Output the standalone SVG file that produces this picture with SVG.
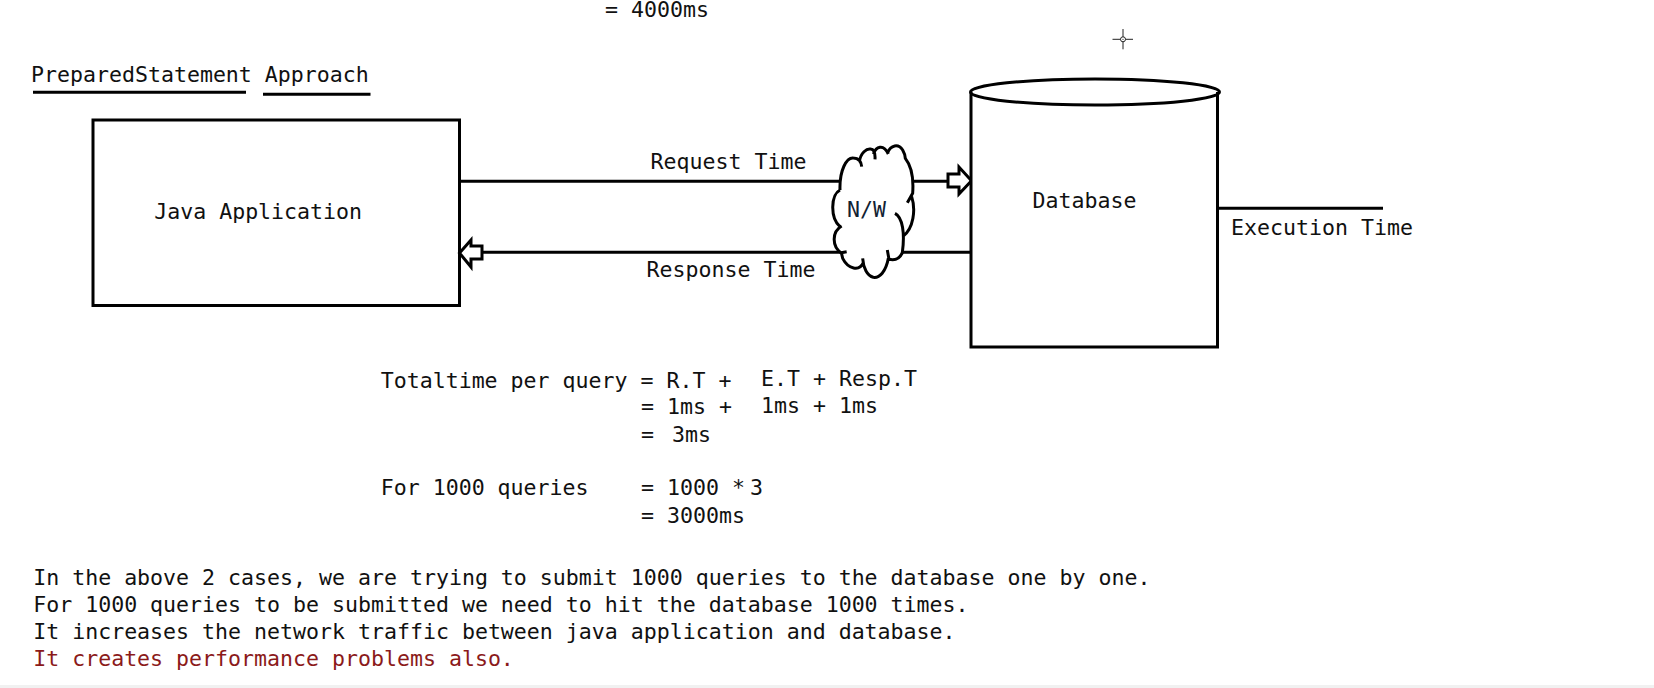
<svg xmlns="http://www.w3.org/2000/svg" width="1654" height="688" viewBox="0 0 1654 688">
<style>
text{font-family:"DejaVu Sans Mono","Liberation Mono",monospace;font-size:21.58px;fill:#111;white-space:pre}
.ln{fill:none;stroke:#000;stroke-width:3}
.sh{fill:#fff;stroke:#000;stroke-width:3}
.red{fill:#8b1a1a}
</style>
<rect width="1654" height="688" fill="#fff"/>
<rect y="685" width="1654" height="3" fill="#f1f1f1"/>
<text x="605" y="17">= 4000ms</text>
<g id="title">
<text x="31" y="82">PreparedStatement Approach</text>
<path class="ln" d="M33 92.3H246M263 94.3H370.5"/>
</g>
<g id="connectors">
<path class="ln" d="M460 181.3H850M905 181.3H948M483 252.3H850M900 252.3H971M1217.5 208.3H1383"/>
<path class="sh" d="M948 174H959V167L971.5 180.7L959 194V187H948Z"/>
<path class="sh" d="M482 246H471V240L459.5 253L471 267V259H482Z"/>
</g>
<g id="java-application">
<rect class="ln" x="93" y="120" width="366.5" height="185.5"/>
<text x="154.2" y="219">Java Application</text>
</g>
<g id="network" transform="translate(820 130) scale(.3333)">
<path d="M60 180C58 120 80 82 100 84C115 85 122 95 125 100C122 68 140 55 152 57C162 58 166 65 168 70C170 50 190 40 205 68C212 45 235 40 248 60C255 72 256 85 256 85C272 105 282 135 278 190L275 200C288 240 280 295 250 318L247 368C240 385 225 392 205 385C198 425 178 445 160 442C142 438 130 415 130 398C118 425 85 418 68 385L65 370C35 350 35 305 62 290C30 265 32 195 60 180Z" fill="#fff" stroke="none"/>
<path d="M60 180C58 120 80 82 100 84C115 85 124 95 125 110M118 95C122 68 140 55 152 57C162 58 166 72 165 88M160 72C168 50 190 40 205 72M203 68C212 45 235 40 248 60C255 72 256 85 256 85C272 105 282 135 278 190L262 218M275 200C288 240 280 295 250 318M225 250C248 262 255 310 247 368C240 385 225 392 207 388L202 360M205 385C198 425 178 445 160 442C142 438 130 415 128 385M130 398C118 425 85 418 68 385L64 368L80 365M65 370C35 350 35 305 65 288M60 290C30 265 32 195 60 180" fill="none" stroke="#000" stroke-width="9"/>
<text x="81" y="261" style="font-size:64.7px;fill:#123">N/W</text>
</g>
<g id="database">
<path class="sh" d="M971 92V347H1217.5V92"/>
<ellipse class="ln" cx="1095" cy="92" rx="124.5" ry="13"/>
<text x="1032.5" y="207.7">Database</text>
</g>
<text x="650.5" y="169">Request Time</text>
<text x="646.5" y="276.7">Response Time</text>
<text x="1231" y="235">Execution Time</text>
<g id="cursor" fill="none" stroke="#222" stroke-width="1">
<path d="M1112.5 39.3H1133M1123 29V49.3"/>
<circle cx="1123" cy="39.3" r="2.5" fill="#fff"/>
<circle cx="1123" cy="39.3" r=".6" fill="#222" stroke="none"/>
</g>
<g id="calculation">
<text x="380.7" y="387.7">Totaltime per query = R.T +</text>
<text x="761" y="385.7">E.T + Resp.T</text>
<text x="641" y="414.3">= 1ms +</text>
<text x="761" y="412.7">1ms + 1ms</text>
<text x="641" y="442.3">=</text>
<text x="672" y="442.3">3ms</text>
<text x="380.7" y="495.3">For 1000 queries</text>
<text x="641" y="495.3">= 1000 *</text>
<text x="750" y="495.3">3</text>
<text x="641" y="522.7">= 3000ms</text>
</g>
<g id="notes">
<text x="33.2" y="584.7">In the above 2 cases, we are trying to submit 1000 queries to the database one by one.</text>
<text x="33.2" y="611.7">For 1000 queries to be submitted we need to hit the database 1000 times.</text>
<text x="33.2" y="638.7">It increases the network traffic between java application and database.</text>
<text x="33.2" y="665.7" class="red">It creates performance problems also.</text>
</g>
</svg>
